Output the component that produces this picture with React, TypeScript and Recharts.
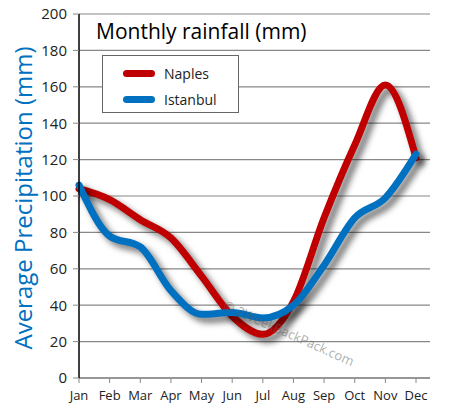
import { CartesianGrid, Label, Line, LineChart, XAxis, YAxis } from 'recharts'

const months = ['Jan', 'Feb', 'Mar', 'Apr', 'May', 'Jun', 'Jul', 'Aug', 'Sep', 'Oct', 'Nov', 'Dec']
const naples = [104, 98, 87, 77, 56, 34, 24, 42, 88, 128, 161, 121]
const istanbul = [106, 78, 72, 48, 35, 36, 33, 40, 62, 88, 99, 123]
const yTicks = [0, 20, 40, 60, 80, 100, 120, 140, 160, 180, 200]

const NAPLES_RED = '#c00000'
const ISTANBUL_BLUE = '#0070c0'
const FONT = '"Open Sans", sans-serif'

const data = months.map((month, i) => ({ month, Naples: naples[i], Istanbul: istanbul[i] }))

function LegendBox() {
  const items = [
    { name: 'Naples', color: NAPLES_RED },
    { name: 'Istanbul', color: ISTANBUL_BLUE },
  ]
  return (
    <div
      style={{
        position: 'absolute',
        left: 102,
        top: 55,
        width: 137,
        height: 58,
        border: '1px solid #666',
        background: '#fff',
        boxSizing: 'border-box',
        padding: '4px 0 0 20px',
        fontFamily: FONT,
        fontSize: 14,
        color: '#222',
      }}
    >
      {items.map((it) => (
        <div key={it.name} style={{ display: 'flex', alignItems: 'center', height: 26 }}>
          <span
            style={{
              display: 'inline-block',
              width: 32,
              height: 7,
              borderRadius: 4,
              background: it.color,
              marginRight: 9,
            }}
          />
          {it.name}
        </div>
      ))}
    </div>
  )
}

function YTitle({ viewBox }: any) {
  const x = viewBox.x - 12
  const y = viewBox.y + viewBox.height / 2 + 2
  return (
    <text
      x={x}
      y={y}
      transform={`rotate(-90 ${x} ${y})`}
      textAnchor="middle"
      dominantBaseline="central"
      style={{ fontSize: 24, fill: ISTANBUL_BLUE, fontFamily: FONT }}
    >
      Average Precipitation (mm)
    </text>
  )
}

export default function App() {
  return (
    <div style={{ position: 'relative', width: 451, height: 418, background: '#fff' }}>
      <style>{`
        body { margin: 0; }
        .recharts-line-curve { filter: drop-shadow(5px 5px 3px rgba(0,0,0,0.55)); }
      `}</style>
      <LineChart
        width={451}
        height={418}
        data={data}
        margin={{ top: 14, right: 21, bottom: 0, left: 34 }}
      >
        <CartesianGrid vertical={false} stroke="#888" strokeWidth={1.2} />
        <XAxis
          dataKey="month"
          interval={0}
          padding={{ left: 0, right: 14 }}
          height={40}
          axisLine={{ stroke: '#888', strokeWidth: 1.5 }}
          tickLine={{ stroke: '#888' }}
          tickSize={5}
          tick={{ fontSize: 13, fill: '#222', fontFamily: FONT }}
          tickMargin={8}
        />
        <XAxis xAxisId="top" orientation="top" height={0} tick={false} axisLine={{ stroke: '#000', strokeWidth: 1.5 }} />
        <YAxis
          domain={[0, 200]}
          ticks={yTicks}
          width={45}
          axisLine={{ stroke: '#000', strokeWidth: 1.5 }}
          tickLine={{ stroke: '#888' }}
          tickSize={6}
          tick={{ fontSize: 15, fill: '#222', fontFamily: FONT }}
          tickMargin={6}
        >
          <Label content={YTitle} />
        </YAxis>
        <YAxis yAxisId="right" orientation="right" width={0} tick={false} axisLine={{ stroke: '#000', strokeWidth: 2 }} />
        <Line
          type="monotone"
          dataKey="Naples"
          stroke={NAPLES_RED}
          strokeWidth={7}
          strokeLinecap="round"
          dot={false}
          isAnimationActive={false}
        />
        <Line
          type="monotone"
          dataKey="Istanbul"
          stroke={ISTANBUL_BLUE}
          strokeWidth={7}
          strokeLinecap="round"
          dot={false}
          isAnimationActive={false}
        />
      </LineChart>
      <LegendBox />
      <div
        style={{
          position: 'absolute',
          left: 96,
          top: 17,
          fontFamily: FONT,
          fontSize: 21,
          color: '#000',
          whiteSpace: 'nowrap',
        }}
      >
        Monthly rainfall (mm)
      </div>
      <div
        style={{
          position: 'absolute',
          left: 228,
          top: 296,
          fontFamily: FONT,
          fontSize: 13,
          color: 'rgba(90,90,90,0.5)',
          transform: 'rotate(24deg)',
          transformOrigin: 'left top',
          whiteSpace: 'nowrap',
          pointerEvents: 'none',
        }}
      >
        © 2WeekBackPack.com
      </div>
    </div>
  )
}
